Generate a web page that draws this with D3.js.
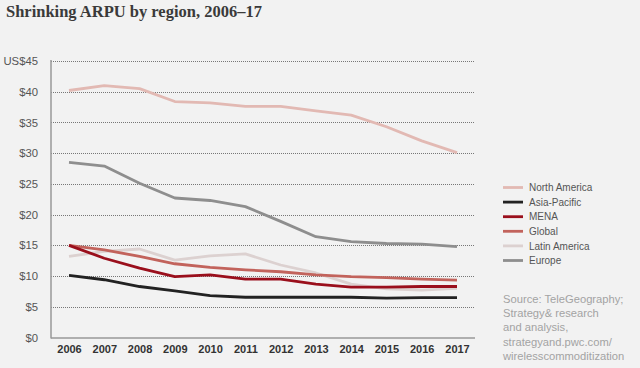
<!DOCTYPE html>
<html><head><meta charset="utf-8">
<script src="https://cdn.jsdelivr.net/npm/d3@7"></script>
<style>
html,body{margin:0;padding:0;background:#f2f2f2;}
svg{display:block;font-family:"Liberation Sans",Arial,sans-serif;}
</style></head>
<body>
<script>
const years = ["2006","2007","2008","2009","2010","2011","2012","2013","2014","2015","2016","2017"];
const northAmerica = [40.2,41.0,40.5,38.4,38.2,37.6,37.6,36.9,36.2,34.3,32.0,30.1];
const asiaPacific  = [10.1,9.4,8.3,7.6,6.8,6.55,6.55,6.55,6.55,6.4,6.5,6.5];
const mena         = [15.0,12.9,11.3,9.9,10.2,9.5,9.5,8.7,8.2,8.2,8.3,8.3];
const global       = [15.0,14.25,13.2,12.0,11.4,11.0,10.7,10.2,9.9,9.75,9.5,9.35];
const latinAmerica = [13.2,14.0,14.4,12.6,13.3,13.6,11.8,10.5,8.7,7.9,7.7,8.0];
const europe       = [28.5,27.9,25.1,22.7,22.3,21.3,18.9,16.4,15.6,15.3,15.2,14.8];
const seriesNames  = ["North America","Asia-Pacific","MENA","Global","Latin America","Europe"];
const seriesValues = [northAmerica, asiaPacific, mena, global, latinAmerica, europe];
const seriesColors = ["#e2b9b3","#222222","#9a0f1c","#c2635c","#dcd1d0","#8e8e8e"];
const yTicks = [0,5,10,15,20,25,30,35,40,45];
const title = "Shrinking ARPU by region, 2006–17";
const sourceLines = ["Source: TeleGeography;","Strategy& research","and analysis,","strategyand.pwc.com/","wirelesscommoditization"];

const W = 640, H = 368;
const svg = d3.select("body").append("svg").attr("width", W).attr("height", H);
svg.append("rect").attr("width", W).attr("height", H).attr("fill", "#f2f2f2");

svg.append("text").attr("x", 6).attr("y", 16.5)
  .attr("font-family", "'Liberation Serif','Times New Roman',serif")
  .attr("font-size", 16.5).attr("font-weight", "bold").attr("fill", "#3a3a3a")
  .text(title);

const x = d3.scalePoint().domain(years).range([69, 457]);
const y = d3.scaleLinear().domain([0, 45]).range([337.5, 61]);
const plotL = 51, plotR = 475;

// gridlines
svg.append("g").selectAll("line").data(yTicks.filter(d => d > 0)).join("line")
  .attr("x1", plotL).attr("x2", plotR)
  .attr("y1", d => Math.round(y(d)) + 0.5).attr("y2", d => Math.round(y(d)) + 0.5)
  .attr("stroke", "#777").attr("stroke-width", 1).attr("stroke-dasharray", "1,1");

// y axis labels
const yAxis = d3.axisLeft(y).tickValues(yTicks).tickSize(0).tickPadding(0)
  .tickFormat(d => d === 45 ? "US$45" : "$" + d);
const gy = svg.append("g").attr("transform", "translate(38,0)").call(yAxis);
gy.select(".domain").remove();
gy.selectAll("text").attr("font-size", 11.3).attr("fill", "#555")
  .attr("font-family", "'Liberation Sans',Arial,sans-serif");

// x axis labels
const xAxis = d3.axisBottom(x).tickSize(0).tickPadding(0);
const gx = svg.append("g").attr("transform", "translate(0,345)").call(xAxis);
gx.select(".domain").remove();
gx.selectAll("text").attr("font-size", 11).attr("fill", "#333").attr("font-weight", "bold")
  .attr("font-family", "'Liberation Sans',Arial,sans-serif");

// axis lines
svg.append("line").attr("x1", plotL).attr("x2", plotL).attr("y1", 60).attr("y2", 338.5)
  .attr("stroke", "#999").attr("stroke-width", 1.5);
svg.append("line").attr("x1", plotL).attr("x2", plotR).attr("y1", 338).attr("y2", 338)
  .attr("stroke", "#999").attr("stroke-width", 1.5);

// lines
const line = d3.line().x((d, i) => x(years[i])).y(d => y(d));
const drawOrder = [5, 0, 4, 3, 2, 1];
svg.append("g").selectAll("path").data(drawOrder).join("path")
  .attr("d", i => line(seriesValues[i]))
  .attr("fill", "none").attr("stroke", i => seriesColors[i])
  .attr("stroke-width", 2.8).attr("stroke-linejoin", "round");

// legend
const lg = svg.append("g").selectAll("g").data(seriesNames).join("g")
  .attr("transform", (d, i) => `translate(503,${187.5 + i * 14.6})`);
lg.append("line").attr("x1", 0).attr("x2", 20).attr("y1", 0).attr("y2", 0)
  .attr("stroke", (d, i) => seriesColors[i]).attr("stroke-width", 2.8);
lg.append("text").attr("x", 26).attr("y", 3.7).attr("font-size", 10).attr("fill", "#555")
  .text(d => d);

// source
svg.append("g").selectAll("text").data(sourceLines).join("text")
  .attr("x", 503).attr("y", (d, i) => 303 + i * 14.2)
  .attr("font-size", 11.2).attr("fill", "#a3a3a3").text(d => d);
</script>
</body></html>
